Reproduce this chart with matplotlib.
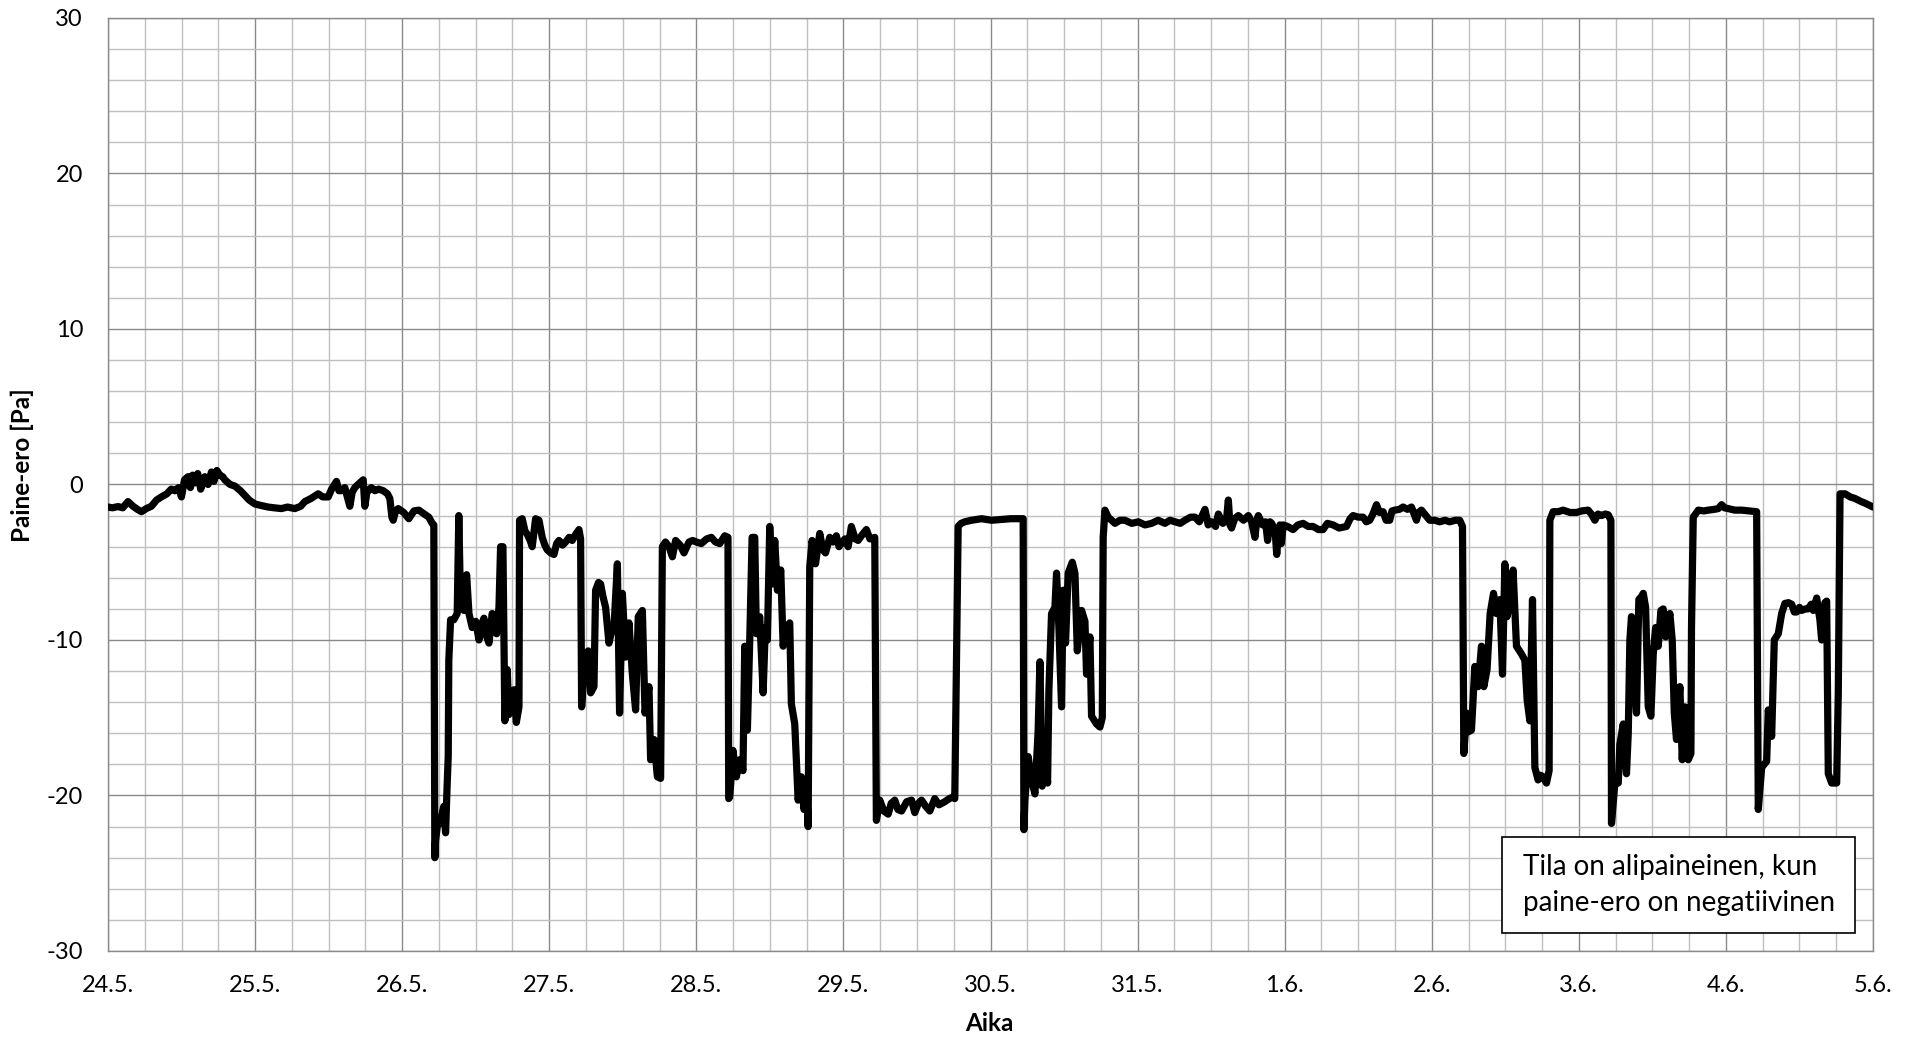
import matplotlib.pyplot as plt
from matplotlib.ticker import MultipleLocator
from matplotlib.patches import Rectangle

plt.rcParams['font.family'] = ['Lato', 'DejaVu Sans']
plt.rcParams['axes.unicode_minus'] = False

# Aika (vrk alkaen 24.5. klo 00) ja paine-ero [Pa]
t_days = [
    0.00, 0.03, 0.068, 0.10, 0.136, 0.17, 0.20, 0.227, 0.26, 0.295, 0.33, 0.363, 0.40, 0.43, 0.454, 0.48,
    0.499, 0.52, 0.544, 0.56, 0.575, 0.590, 0.61, 0.63, 0.658, 0.68, 0.703, 0.72, 0.740, 0.760, 0.78, 0.794,
    0.83, 0.862, 0.90, 0.930, 0.96, 0.998, 1.04, 1.088, 1.13, 1.179, 1.22, 1.270, 1.31, 1.338, 1.38, 1.429,
    1.46, 1.497, 1.52, 1.553, 1.57, 1.587, 1.61, 1.644, 1.66, 1.678, 1.70, 1.735, 1.746, 1.76, 1.79, 1.814,
    1.84, 1.871, 1.90, 1.916, 1.93, 1.939, 1.955, 1.973,
    2.01, 2.045, 2.08, 2.113, 2.15, 2.181, 2.204, 2.215, 2.222, 2.227, 2.245, 2.261, 2.275, 2.283, 2.295, 2.305,
    2.313, 2.317, 2.329, 2.351, 2.374, 2.385, 2.397, 2.420, 2.438, 2.454, 2.476, 2.50, 2.522, 2.54, 2.556, 2.575,
    2.590, 2.612, 2.630, 2.642, 2.658, 2.669, 2.685, 2.698, 2.714, 2.725, 2.737, 2.760, 2.776, 2.794, 2.798, 2.816,
    2.835, 2.850, 2.870, 2.884, 2.907, 2.930, 2.952, 2.970, 2.986, 3.010, 3.032, 3.050, 3.066, 3.09, 3.111, 3.135,
    3.156, 3.18, 3.202, 3.213, 3.220, 3.235, 3.247, 3.265, 3.281, 3.304, 3.315, 3.335, 3.349, 3.365, 3.383, 3.406,
    3.425, 3.440, 3.463, 3.478, 3.497, 3.519, 3.542, 3.565, 3.587, 3.605, 3.633, 3.651, 3.678, 3.689, 3.712, 3.735,
    3.757, 3.769, 3.79, 3.814, 3.837, 3.859, 3.89, 3.916, 3.950, 3.975,
    4.00, 4.034, 4.07, 4.102, 4.13, 4.159, 4.193, 4.215, 4.220, 4.227, 4.249, 4.272, 4.295, 4.317, 4.329, 4.347,
    4.363, 4.379, 4.397, 4.408, 4.431, 4.454, 4.469, 4.483, 4.499, 4.515, 4.533, 4.551, 4.574, 4.590, 4.612, 4.635,
    4.646, 4.669, 4.692, 4.714, 4.732, 4.750, 4.760, 4.771, 4.787, 4.810, 4.839, 4.86, 4.878, 4.907, 4.93, 4.952,
    4.97, 4.986, 5.01, 5.032, 5.054, 5.08, 5.100, 5.13, 5.156, 5.18, 5.213, 5.224, 5.247, 5.275, 5.304, 5.325,
    5.349, 5.370, 5.395, 5.43, 5.463, 5.485, 5.51, 5.531, 5.56, 5.587, 5.621, 5.65, 5.689, 5.72, 5.746, 5.757,
    5.780, 5.80, 5.825, 5.871, 5.939, 6.007,
    6.075, 6.14, 6.188, 6.222, 6.227, 6.234, 6.256, 6.279, 6.302, 6.324, 6.336, 6.351, 6.370, 6.388, 6.397, 6.415,
    6.438, 6.449, 6.465, 6.483, 6.494, 6.510, 6.528, 6.556, 6.574, 6.590, 6.619, 6.642, 6.653, 6.676, 6.687, 6.721,
    6.744, 6.760, 6.766, 6.778, 6.800, 6.846, 6.88, 6.914, 6.96, 7.005, 7.05, 7.095, 7.14, 7.186, 7.22, 7.254,
    7.29, 7.322, 7.36, 7.390, 7.42, 7.458, 7.48, 7.503, 7.53, 7.549, 7.58, 7.605, 7.617, 7.628, 7.639, 7.66,
    7.685, 7.72, 7.753, 7.775, 7.798, 7.81, 7.821, 7.85, 7.870, 7.884, 7.90, 7.912, 7.935, 7.946, 7.957,
    7.968, 7.977, 7.990, 8.02, 8.057, 8.09, 8.125, 8.16, 8.193, 8.23, 8.261, 8.29, 8.329, 8.37, 8.420, 8.445,
    8.465, 8.50, 8.533, 8.555, 8.578, 8.60, 8.624, 8.645, 8.669, 8.69, 8.714, 8.73, 8.748, 8.78, 8.805, 8.835,
    8.862, 8.896, 8.910, 8.930, 8.96, 8.986, 9.02, 9.054, 9.09, 9.122, 9.16, 9.190, 9.209, 9.218, 9.236, 9.25,
    9.270, 9.293, 9.315, 9.338, 9.354, 9.376, 9.397, 9.420, 9.440, 9.463, 9.481, 9.497, 9.512, 9.531, 9.553, 9.576,
    9.610, 9.633, 9.649, 9.667, 9.685, 9.701, 9.723, 9.740, 9.757, 9.780, 9.798, 9.803, 9.825, 9.86, 9.893, 9.94,
    9.984,
    10.02, 10.063, 10.085, 10.109, 10.13, 10.154, 10.18, 10.200, 10.218, 10.222, 10.245, 10.268, 10.279, 10.302,
    10.324, 10.336, 10.347, 10.358, 10.376, 10.392, 10.408, 10.426, 10.438, 10.454, 10.472, 10.490, 10.506, 10.522,
    10.540, 10.558, 10.574, 10.590, 10.619, 10.635, 10.649, 10.664, 10.687, 10.703, 10.721, 10.744, 10.762, 10.766,
    10.778, 10.812, 10.85, 10.880, 10.92, 10.948, 10.971, 10.99, 11.016, 11.06, 11.107, 11.16, 11.209, 11.220,
    11.243, 11.277, 11.288, 11.311, 11.329, 11.356, 11.379, 11.401, 11.425, 11.447, 11.465, 11.481, 11.50, 11.515,
    11.54, 11.560, 11.58, 11.594, 11.617, 11.639, 11.651, 11.673, 11.685, 11.696, 11.719, 11.753, 11.764, 11.776,
    11.810, 11.845, 11.878, 11.92, 11.946, 12.0,
]

dp_pa = [
    -1.45, -1.5, -1.42, -1.5, -1.1, -1.4, -1.6, -1.75, -1.55, -1.4, -1.0, -0.8, -0.6, -0.3, -0.4, -0.2,
    -0.8, 0.3, 0.5, -0.2, 0.6, 0.1, 0.7, -0.3, 0.5, 0.0, 0.8, 0.2, 0.9, 0.6, 0.5, 0.3,
    0.0, -0.1, -0.4, -0.7, -1.0, -1.25, -1.35, -1.45, -1.5, -1.55, -1.45, -1.55, -1.4, -1.1, -0.9, -0.6,
    -0.8, -0.8, -0.3, 0.2, -0.4, -0.4, -0.2, -1.4, -0.5, -0.2, 0.0, 0.3, -1.4, -0.5, -0.2, -0.4,
    -0.3, -0.4, -0.6, -0.9, -2.1, -2.3, -1.7, -1.55,
    -1.8, -2.2, -1.7, -1.65, -1.9, -2.1, -2.5, -2.6, -24.0, -22.9, -21.5, -21.8, -21.0, -20.7, -22.4, -19.5,
    -17.5, -11.3, -8.7, -8.7, -8.3, -2.0, -7.9, -8.1, -5.8, -8.3, -9.2, -8.8, -10.0, -9.0, -8.6, -9.8,
    -10.2, -8.3, -9.0, -9.6, -7.9, -4.0, -4.0, -15.2, -11.9, -14.8, -14.3, -13.2, -15.3, -14.3, -2.3, -2.2,
    -3.0, -3.2, -3.6, -4.0, -2.2, -2.3, -3.4, -3.9, -4.2, -4.4, -4.5, -3.8, -3.6, -3.9, -3.7, -3.4,
    -3.6, -3.2, -2.9, -3.5, -14.3, -12.0, -12.2, -10.7, -13.4, -13.0, -6.8, -6.3, -6.4, -7.2, -7.9, -10.2,
    -9.4, -9.2, -5.1, -14.7, -7.0, -11.1, -8.9, -12.2, -14.5, -8.5, -8.1, -14.7, -13.0, -17.7, -16.4, -18.8,
    -18.9, -4.0, -3.7, -4.0, -4.65, -3.6, -3.9, -4.4, -3.7, -3.6,
    -3.7, -3.8, -3.5, -3.4, -3.7, -3.8, -3.3, -3.4, -20.2, -20.1, -17.1, -18.8, -17.7, -18.4, -10.4, -15.8,
    -10.0, -3.4, -3.4, -9.6, -8.5, -13.4, -9.2, -10.0, -2.7, -6.4, -3.6, -6.8, -5.5, -10.4, -9.2, -8.9,
    -14.1, -15.4, -20.3, -18.8, -20.9, -19.5, -22.0, -5.3, -3.6, -5.1, -3.15, -4.2, -4.4, -3.4, -3.7, -3.3,
    -4.0, -3.8, -3.5, -4.0, -2.7, -3.5, -3.6, -3.2, -2.9, -3.5, -3.4, -21.6, -20.3, -21.0, -21.2, -20.5,
    -20.3, -20.9, -21.0, -20.4, -20.3, -21.1, -20.5, -20.3, -20.7, -21.0, -20.2, -20.6, -20.4, -20.2, -20.1, -20.2,
    -2.7, -2.5, -2.4, -2.3, -2.2, -2.3,
    -2.25, -2.2, -2.2, -2.2, -22.2, -20.3, -17.5, -19.0, -19.9, -15.8, -11.4, -19.4, -16.4, -19.2, -13.2, -8.3,
    -7.9, -5.7, -9.2, -14.3, -6.8, -10.2, -5.7, -5.0, -5.7, -10.7, -8.1, -8.8, -12.2, -9.8, -14.9, -15.4,
    -15.6, -15.0, -3.4, -1.65, -2.1, -2.5, -2.3, -2.3, -2.5, -2.4, -2.6, -2.5, -2.3, -2.5, -2.3, -2.4,
    -2.5, -2.3, -2.1, -2.1, -2.4, -1.6, -2.6, -2.4, -2.7, -1.9, -2.5, -2.2, -1.0, -2.6, -2.8, -2.2,
    -2.0, -2.3, -2.0, -2.4, -3.4, -2.3, -2.0, -2.6, -2.4, -3.6, -2.4, -2.5, -3.0, -4.5, -3.2,
    -2.6, -3.8, -2.6, -2.7, -2.9, -2.6, -2.5, -2.7, -2.7, -2.9, -2.9, -2.5, -2.6, -2.8, -2.7, -2.2,
    -2.0, -2.1, -2.1, -2.4, -2.3, -1.9, -1.3, -1.8, -1.75, -2.3, -2.3, -1.7, -1.65, -1.6, -1.45, -1.6,
    -1.45, -2.3, -1.8, -1.65, -2.0, -2.3, -2.3, -2.4, -2.3, -2.4, -2.3, -2.3, -2.7, -17.3, -14.7, -15.9,
    -15.8, -11.7, -13.0, -10.4, -13.0, -11.9, -8.3, -7.0, -8.3, -7.4, -12.2, -5.1, -8.5, -7.6, -5.5, -10.4,
    -10.9, -11.3, -13.9, -15.2, -7.4, -18.2, -19.0, -18.7, -18.8, -19.2, -18.4, -2.3, -1.75, -1.75, -1.65, -1.8,
    -1.8,
    -1.7, -1.65, -1.9, -2.3, -1.9, -2.0, -1.9, -1.95, -2.3, -21.8, -19.2, -19.2, -16.7, -15.4,
    -18.6, -16.0, -10.0, -8.5, -12.6, -14.7, -7.4, -7.2, -7.0, -7.9, -14.3, -14.9, -10.9, -9.2,
    -10.4, -8.1, -8.0, -9.8, -8.3, -10.0, -14.7, -16.4, -13.0, -17.7, -14.3, -17.7, -17.3, -9.2,
    -2.1, -1.65, -1.7, -1.65, -1.6, -1.55, -1.3, -1.5, -1.55, -1.65, -1.65, -1.7, -1.75, -20.9,
    -18.2, -17.8, -14.5, -16.2, -10.0, -9.6, -8.3, -7.65, -7.6, -7.7, -8.2, -8.2, -7.9, -8.1,
    -8.0, -8.0, -7.7, -8.1, -7.3, -8.7, -10.0, -7.6, -7.5, -18.6, -19.2, -19.2, -13.4, -0.6,
    -0.6, -0.8, -0.9, -1.1, -1.2, -1.45,
]

day_labels = ["24.5.", "25.5.", "26.5.", "27.5.", "28.5.", "29.5.", "30.5.",
              "31.5.", "1.6.", "2.6.", "3.6.", "4.6.", "5.6."]

fig = plt.figure(figsize=(19.12, 10.39), dpi=100)
ax = fig.add_axes([0.0565, 0.0847, 0.9231, 0.898])

ax.plot(t_days, dp_pa, color='black', lw=5.2, solid_joinstyle='round',
        solid_capstyle='round', zorder=3)

ax.set_xlim(0, len(day_labels) - 1)
ax.set_ylim(-30, 30)
ax.set_xticks(range(len(day_labels)))
ax.set_xticklabels(day_labels)
ax.xaxis.set_minor_locator(MultipleLocator(0.25))
ax.yaxis.set_major_locator(MultipleLocator(10))
ax.yaxis.set_minor_locator(MultipleLocator(2))

# ruudukko: tummemmat viivat vuorokausittain / 10 Pa välein
ax.grid(which='minor', color='#c0c0c0', lw=1.0, zorder=0)
ax.grid(which='major', color='#8a8a8a', lw=1.0, zorder=1)
ax.set_axisbelow(True)
for s in ax.spines.values():
    s.set_color('#8a8a8a')
    s.set_linewidth(1.0)

ax.tick_params(which='both', length=0)
ax.tick_params(axis='x', labelsize=17, pad=17)
ax.tick_params(axis='y', labelsize=17, pad=18)

fig.text(0.0115, 0.5525, 'Paine-ero [Pa]', rotation=90, ha='center', va='center',
         fontsize=17.5, fontweight='bold')
fig.text(0.5175, 0.0145, 'Aika', ha='center', va='center', fontsize=17.5, fontweight='bold')

# selite oikeaan alakulmaan
ax.add_patch(Rectangle((0.790, 0.019), 0.200, 0.103, transform=ax.transAxes,
                       facecolor='white', edgecolor='black', lw=1.2, zorder=5))
ax.text(0.8015, 0.0705, 'Tila on alipaineinen, kun\npaine-ero on negatiivinen',
        transform=ax.transAxes, ha='left', va='center', fontsize=20,
        linespacing=1.45, zorder=6)

plt.savefig('out.png', dpi=100)
